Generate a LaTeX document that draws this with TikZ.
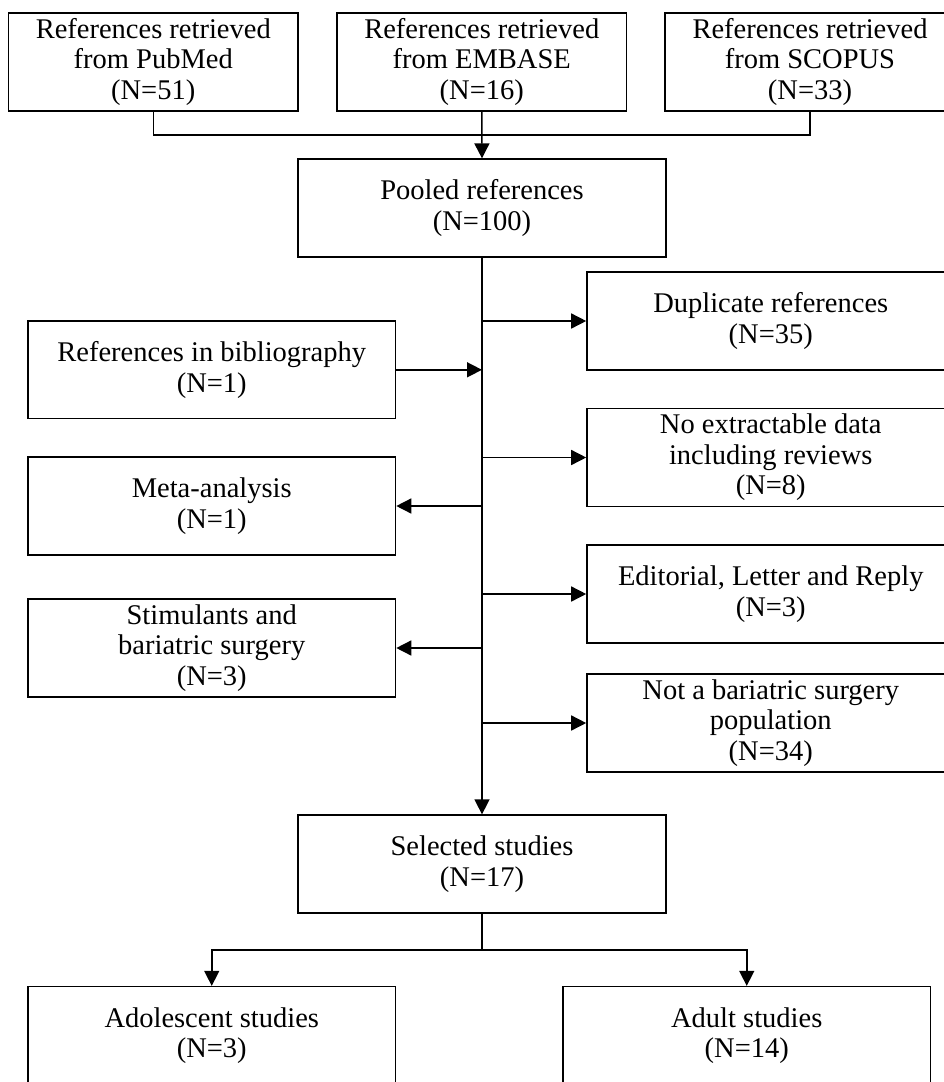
\documentclass[tikz,border=0pt]{standalone}
\usepackage{fontspec}
\setmainfont{Liberation Serif}
\usetikzlibrary{arrows.meta}
\begin{document}
\begin{tikzpicture}[x=1pt,y=-1pt,
  box/.style={draw, line width=1.6pt, minimum width=367.5pt, minimum height=97.7pt,
    inner sep=0pt, align=center, font=\fontsize{28.5}{30.5}\selectfont},
  topbox/.style={box, minimum width=289.5pt},
  conn/.style={line width=1.5pt},
  arr/.style={conn, -{Triangle[length=15pt,width=15pt]}}]
\useasboundingbox (0,0) rectangle (944,1082);
\node[topbox] (pub) at (153.25,61.85) {References retrieved\\from PubMed\\(N=51)};
\node[topbox] (emb) at (481.75,61.85) {References retrieved\\from EMBASE\\(N=16)};
\node[topbox] (sco) at (810,61.85) {References retrieved\\from SCOPUS\\(N=33)};
\node[box] (pool) at (482,208) {Pooled references\\(N=100)};
\node[box] (dup) at (770.75,321) {Duplicate references\\(N=35)};
\node[box] (bib) at (211.75,369.8) {References in bibliography\\(N=1)};
\node[box] (noex) at (770.75,457.5) {No extractable data\\including reviews\\(N=8)};
\node[box] (meta) at (211.75,506) {Meta-analysis\\(N=1)};
\node[box] (edit) at (770.75,594) {Editorial, Letter and Reply\\(N=3)};
\node[box] (stim) at (211.75,648) {Stimulants and\\bariatric surgery\\(N=3)};
\node[box] (notb) at (770.75,723) {Not a bariatric surgery\\population\\(N=34)};
\node[box] (sel) at (482,864) {Selected studies\\(N=17)};
\node[box] (ado) at (211.75,1035.5) {Adolescent studies\\(N=3)};
\node[box] (adu) at (746.75,1035.5) {Adult studies\\(N=14)};
\coordinate (j) at (482,135);
\coordinate (s) at (482,950);
\draw[conn] (pub.south) -- (pub.south |- j) -- (sco.south |- j) -- (sco.south);
\draw[arr] (emb.south) -- (pool.north);
\draw[arr] (pool.south) -- (sel.north);
\draw[arr] (pool.south |- dup.west) -- (dup.west);
\draw[arr] (bib.east) -- (pool.south |- bib.east);
\draw[arr] (pool.south |- noex.west) -- (noex.west);
\draw[arr] (pool.south |- meta.east) -- (meta.east);
\draw[arr] (pool.south |- edit.west) -- (edit.west);
\draw[arr] (pool.south |- stim.east) -- (stim.east);
\draw[arr] (pool.south |- notb.west) -- (notb.west);
\draw[conn] (sel.south) -- (s);
\draw[arr] (s) -| (ado.north);
\draw[arr] (s) -| (adu.north);
\end{tikzpicture}
\end{document}
